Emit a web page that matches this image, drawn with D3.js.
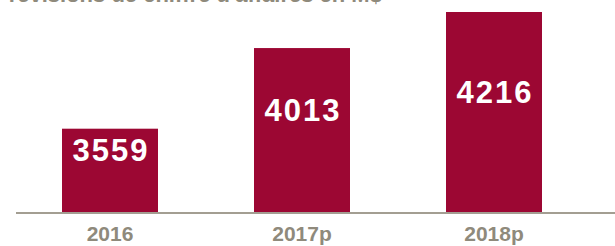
<!DOCTYPE html>
<html lang="fr">
<head>
  <meta charset="UTF-8">
  <title>Prévisions de chiffre d'affaires</title>
  <script src="https://d3js.org/d3.v7.min.js"></script>
  <style>
    body { margin: 0; background: #fff; }
    svg { display: block; font-family: "Liberation Sans", Arial, sans-serif; }
  </style>
</head>
<body>
  <div id="viz"></div>

  <script>
    const years = ['2016', '2017p', '2018p'];
    const revenue = [3559, 4013, 4216];
    const title = "Prévisions de chiffre d'affaires en M$";

    const width = 615, height = 246;
    const baseline = 212;

    const svg = d3.select('#viz')
      .append('svg')
        .attr('width', width)
        .attr('height', height);

    // the bars in the source are not drawn from zero, so the domain is cut
    const x = d3.scaleBand()
      .domain(years)
      .range([14, 590])
      .paddingInner(0.5)
      .paddingOuter(0.25);

    const y = d3.scaleLinear()
      .domain([3090, 4216])
      .range([baseline, 12]);

    // title, mostly cut off by the top edge (as in the source)
    svg.append('text')
      .attr('x', -6)
      .attr('y', 2)
      .style('font-size', '22px')
      .style('font-weight', 'bold')
      .style('fill', '#8f8a7c')
      .text(title);

    svg.append('g')
      .selectAll('rect')
      .data(revenue)
      .join('rect')
        .attr('x', (d, i) => x(years[i]))
        .attr('y', d => y(d))
        .attr('width', x.bandwidth())
        .attr('height', d => baseline - y(d))
        .style('fill', '#9c0733');

    svg.append('g')
      .selectAll('text')
      .data(revenue)
      .join('text')
        .attr('x', (d, i) => x(years[i]) + x.bandwidth() / 2 + 1)
        .attr('y', d => (y(d) + baseline) / 2 - 20)
        .attr('text-anchor', 'middle')
        .attr('dominant-baseline', 'central')
        .style('font-size', '31px')
        .style('font-weight', 'bold')
        .style('letter-spacing', '2px')
        .style('fill', '#fff')
        .text(d => d);

    // x axis
    const axis = svg.append('g')
      .attr('transform', `translate(0, ${baseline + 1})`)
      .call(d3.axisBottom(x).tickSize(0).tickPadding(13));

    axis.select('.domain').remove();
    axis.append('line')
      .attr('x1', 16).attr('x2', width)
      .style('stroke', '#a39e92')
      .style('stroke-width', 2);

    axis.selectAll('.tick text')
      .style('font-family', '"Liberation Sans", Arial, sans-serif')
      .style('font-size', '21px')
      .style('font-weight', 'bold')
      .style('fill', '#8f8a7c');
  </script>
</body>
</html>
